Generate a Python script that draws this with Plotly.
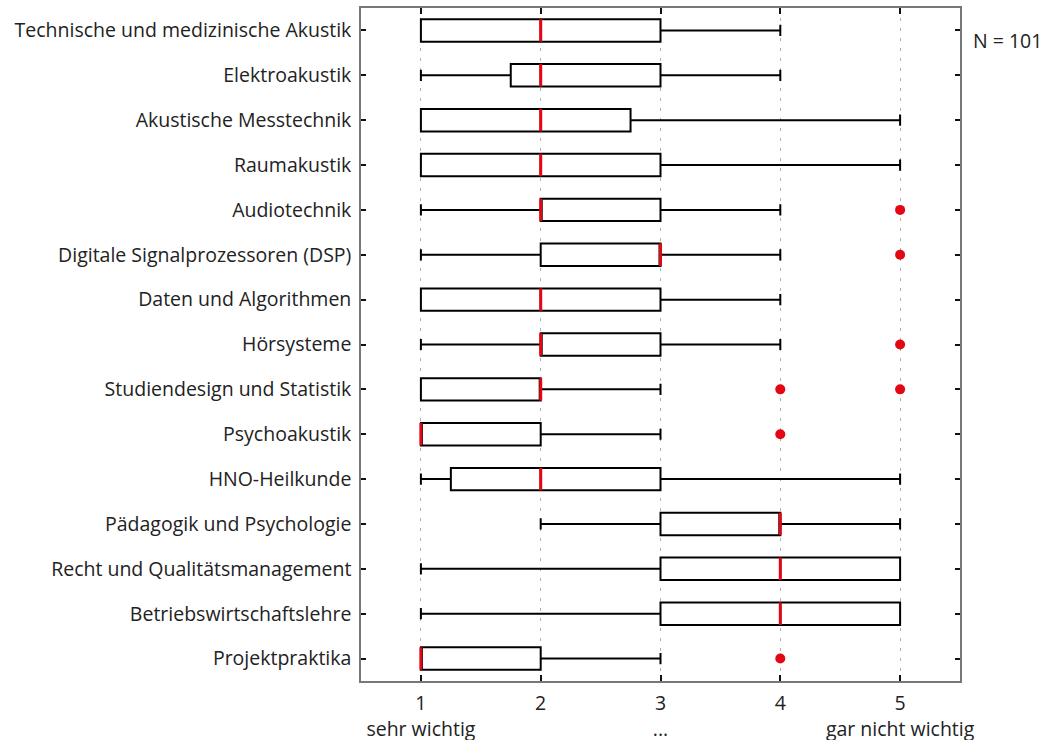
import plotly.graph_objects as go

categories = [
    "Technische und medizinische Akustik",
    "Elektroakustik",
    "Akustische Messtechnik",
    "Raumakustik",
    "Audiotechnik",
    "Digitale Signalprozessoren (DSP)",
    "Daten und Algorithmen",
    "Hörsysteme",
    "Studiendesign und Statistik",
    "Psychoakustik",
    "HNO-Heilkunde",
    "Pädagogik und Psychologie",
    "Recht und Qualitätsmanagement",
    "Betriebswirtschaftslehre",
    "Projektpraktika",
]
lower = [1, 1, 1, 1, 1, 1, 1, 1, 1, 1, 1, 2, 1, 1, 1]
q1 = [1, 1.75, 1, 1, 2, 2, 1, 2, 1, 1, 1.25, 3, 3, 3, 1]
median = [2, 2, 2, 2, 2, 3, 2, 2, 2, 1, 2, 4, 4, 4, 1]
q3 = [3, 3, 2.75, 3, 3, 3, 3, 3, 2, 2, 3, 4, 5, 5, 2]
upper = [4, 4, 5, 5, 4, 4, 4, 4, 3, 3, 5, 5, 5, 5, 3]
# outliers: (category index, value)
outlier_cat = [4, 5, 7, 8, 8, 9, 14]
outlier_val = [5, 5, 5, 4, 5, 4, 4]

x_ticks = [1, 2, 3, 4, 5]
x_ticktext = ["1<br>sehr wichtig", "2", "3<br>...", "4", "5<br>gar nicht wichtig"]
n_text = "N = 101"

RED = "#e30613"
pos = list(range(1, len(categories) + 1))
half = 0.25
FS = 19.5

fig = go.Figure()
fig.add_trace(go.Box(
    y=pos, q1=q1, median=median, q3=q3,
    lowerfence=lower, upperfence=upper,
    orientation="h", width=0.5, whiskerwidth=0.5,
    line=dict(color="black", width=2), fillcolor="white",
    boxpoints=False, showlegend=False, hoverinfo="skip",
))

mx, my = [], []
for p, m in zip(pos, median):
    mx += [m, m, None]
    my += [p - half, p + half, None]
fig.add_trace(go.Scatter(x=mx, y=my, mode="lines",
                         line=dict(color=RED, width=3),
                         showlegend=False, hoverinfo="skip"))

fig.add_trace(go.Scatter(x=outlier_val, y=[pos[i] for i in outlier_cat],
                         mode="markers",
                         marker=dict(color=RED, size=10, line=dict(width=0)),
                         showlegend=False))

fig.add_annotation(text=n_text, xref="paper", yref="paper", x=1.018, y=0.951,
                   xanchor="left", yanchor="middle", showarrow=False,
                   font=dict(size=FS, color="#222"))

fig.update_xaxes(range=[0.5, 5.5], tickvals=x_ticks, ticktext=x_ticktext,
                 showgrid=True, gridcolor="#b0b0b0", griddash="3px,7px", gridwidth=1,
                 zeroline=False, showline=True, linecolor="#777", linewidth=1.5,
                 mirror="ticks", ticks="inside", ticklen=6, tickcolor="#111",
                 tickwidth=1.5, ticklabelstandoff=4, automargin=False,
                 tickfont=dict(size=FS, color="#222"))
fig.update_yaxes(range=[15.5, 0.5], tickvals=pos, ticktext=categories,
                 showgrid=False, zeroline=False, showline=True, linecolor="#777",
                 linewidth=1.5, mirror="ticks", ticks="inside", ticklen=5,
                 tickcolor="#111", tickwidth=1.5, ticklabelstandoff=4,
                 automargin=False,
                 tickfont=dict(size=FS, color="#222"))

fig.update_layout(width=1050, height=740,
                  margin=dict(l=361, r=90, t=8, b=59),
                  paper_bgcolor="white", plot_bgcolor="white",
                  font=dict(family="Open Sans", size=FS, color="#222"))

fig.write_html("out.html")
